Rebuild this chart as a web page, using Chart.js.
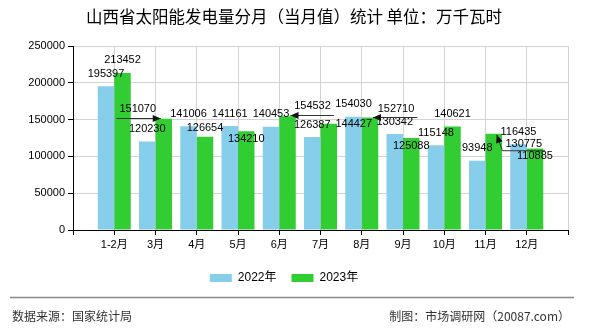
<!DOCTYPE html>
<html>
<head>
<meta charset="utf-8">
<script src="https://cdn.jsdelivr.net/npm/chart.js@4.4.0/dist/chart.umd.min.js"></script>
<style>
html, body { margin: 0; padding: 0; background: #fff; }
</style>
</head>
<body>
<canvas id="myBarChart" width="590" height="330"></canvas>
<script>
// Data
const months = ['1-2月', '3月', '4月', '5月', '6月', '7月', '8月', '9月', '10月', '11月', '12月'];
const values2022 = [195397, 120230, 141006, 141161, 140453, 126387, 154030, 130342, 115148, 93948, 116435];
const values2023 = [213452, 151070, 126654, 134210, 154532, 144427, 152710, 125088, 140621, 130775, 110885];
const yMax = 250000;
const yStep = 50000;

// label placement tweaks for the 2023 labels (offset from bar top)
const shift2023 = [null, { dx: -26, dy: -10, arrow: true }, { dx: 0, dy: -9 }, { dx: 0, dy: 8 },
    { dx: 25, dy: -10, arrow: true }, { dx: 25, dy: 0 }, { dx: 26, dy: -9, arrow: true },
    { dx: 0, dy: 8.5 }, null, { dx: 30, dy: 10, arrow: true }, { dx: 0, dy: 8 }];

const numFont = '11px "Liberation Sans", "Noto Sans CJK SC", sans-serif';

// empty slot at both ends so the categories sit on the grid lines
const labels = [''].concat(months, ['']);
const pad = arr => [null].concat(arr, [null]);

// title, footer
const decoPlugin = {
    id: 'deco',
    afterDraw(chart) {
        const c = chart.ctx;
        c.save();
        c.fillStyle = '#000';
        c.font = '16.5px "Noto Sans CJK SC", sans-serif';
        c.textAlign = 'center';
        c.textBaseline = 'middle';
        c.fillText('山西省太阳能发电量分月（当月值）统计 单位：万千瓦时', 294, 17);

        c.strokeStyle = '#888';
        c.lineWidth = 1.5;
        c.beginPath();
        c.moveTo(10, 297.5);
        c.lineTo(574, 297.5);
        c.stroke();

        c.fillStyle = '#333';
        c.font = '12px "Noto Sans CJK SC", sans-serif';
        c.textAlign = 'left';
        c.fillText('数据来源：国家统计局', 12, 316);
        c.textAlign = 'right';
        c.fillText('制图：市场调研网（20087.com）', 570, 316);
        c.restore();
    }
};

function arrowHead(c, fx, fy, tx, ty) {
    const a = Math.atan2(ty - fy, tx - fx);
    c.beginPath();
    c.moveTo(tx, ty);
    c.lineTo(tx - 8 * Math.cos(a) + 3.5 * Math.sin(a), ty - 8 * Math.sin(a) - 3.5 * Math.cos(a));
    c.lineTo(tx - 8 * Math.cos(a) - 3.5 * Math.sin(a), ty - 8 * Math.sin(a) + 3.5 * Math.cos(a));
    c.closePath();
    c.fill();
}

// value labels above the bars
const valuePlugin = {
    id: 'values',
    afterDatasetsDraw(chart) {
        const c = chart.ctx;
        c.save();
        c.font = numFont;
        c.textAlign = 'center';
        c.textBaseline = 'middle';
        chart.data.datasets.forEach((ds, di) => {
            const meta = chart.getDatasetMeta(di);
            meta.data.forEach((el, i) => {
                const v = ds.data[i];
                if (v == null) return;
                const s = di === 1 ? shift2023[i - 1] : null;
                const dx = s ? s.dx : 0;
                const dy = s ? s.dy : -12.5;
                const lx = el.x + dx, ly = el.y + dy;
                c.fillStyle = '#000';
                c.fillText(String(v), lx, ly);
                if (s && s.arrow) {
                    const w = c.measureText(String(v)).width;
                    const side = Math.sign(dx);
                    let uy = ly + 7;
                    const farX = lx + side * (w / 2 + 3);
                    const nearX = lx - side * (w / 2 + 3);
                    const tx = el.x + side * 3;
                    let ty = el.y + 1;
                    c.strokeStyle = '#333';
                    c.fillStyle = '#111';
                    c.lineWidth = 1;
                    let px = farX;
                    if (Math.abs(ty - uy) > 5) {
                        c.beginPath();
                        c.moveTo(farX, uy);
                        c.lineTo(nearX, uy);
                        c.lineTo(tx, ty);
                        c.stroke();
                        px = nearX;
                    } else {
                        // tip is level with the underline: keep it straight
                        uy = ty = Math.round((uy + ty) / 2) + 0.5;
                        c.beginPath();
                        c.moveTo(farX, uy);
                        c.lineTo(tx, ty);
                        c.stroke();
                    }
                    arrowHead(c, px, uy, tx, ty);
                }
            });
        });
        c.restore();
    }
};

const ctx = document.getElementById('myBarChart').getContext('2d');
new Chart(ctx, {
    type: 'bar',
    data: {
        labels: labels,
        datasets: [{
            label: '2022年',
            data: pad(values2022),
            backgroundColor: '#87CEEB',
            categoryPercentage: 0.8,
            barPercentage: 1.0
        }, {
            label: '2023年',
            data: pad(values2023),
            backgroundColor: '#32CD32',
            categoryPercentage: 0.8,
            barPercentage: 1.0
        }]
    },
    options: {
        responsive: false,
        devicePixelRatio: 1,
        animation: false,
        layout: { padding: { top: 46, left: 0, right: 22, bottom: 36 } },
        plugins: {
            tooltip: { enabled: false },
            title: { display: false },
            legend: {
                position: 'bottom',
                labels: {
                    boxWidth: 22,
                    boxHeight: 8,
                    padding: 15,
                    color: '#000',
                    font: { size: 12, family: '"Liberation Sans", "Noto Sans CJK SC", sans-serif' }
                }
            }
        },
        scales: {
            x: {
                offset: false,
                grid: { offset: false, color: '#d3d3d3', tickColor: '#000', tickLength: 5 },
                border: { color: '#000' },
                ticks: {
                    autoSkip: false, maxRotation: 0, padding: 3, color: '#000',
                    font: { size: 11, family: '"Liberation Sans", "Noto Sans CJK SC", sans-serif' }
                },
                afterFit(scale) { scale.height = 27; }
            },
            y: {
                min: 0,
                max: yMax,
                grid: { color: '#d3d3d3', tickColor: '#000', tickLength: 5 },
                border: { color: '#000' },
                ticks: {
                    stepSize: yStep, padding: 3, color: '#000',
                    font: { size: 11, family: '"Liberation Sans", sans-serif' },
                    callback: v => String(v)
                },
                afterFit(scale) { scale.width = 73; }
            }
        }
    },
    plugins: [valuePlugin, decoPlugin]
});
</script>
</body>
</html>
